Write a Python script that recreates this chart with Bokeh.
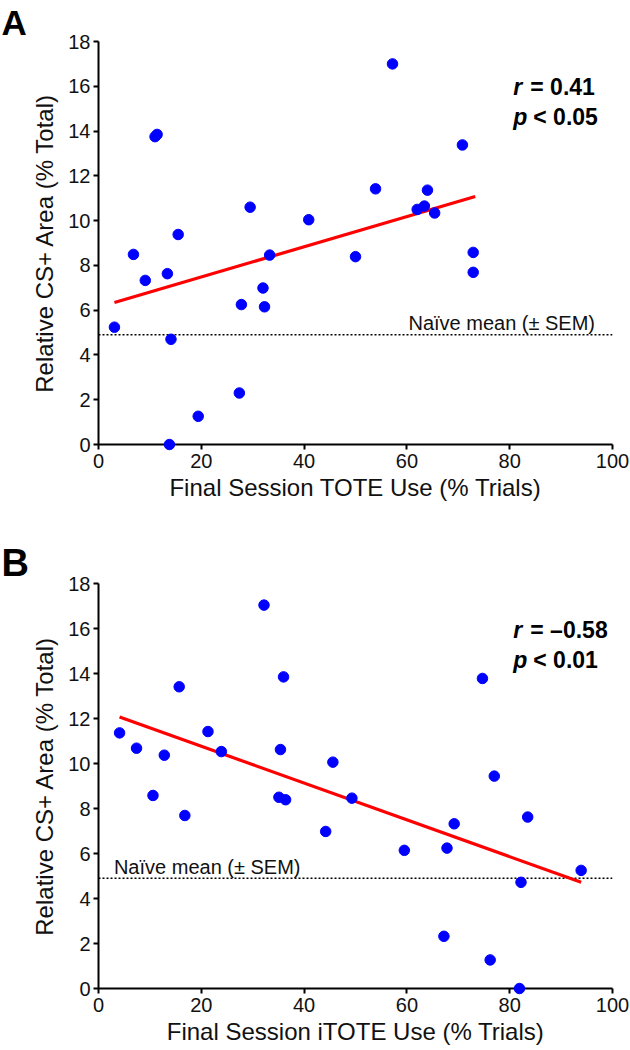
from bokeh.plotting import figure
from bokeh.models import Range1d, Label, ColumnDataSource
from bokeh.layouts import column
from bokeh.embed import file_html
from bokeh.resources import INLINE

# ---------------- data ----------------
# Panel A: Final Session TOTE Use (% Trials) vs Relative CS+ Area (% Total)
tote_pct = [57.2, 11.0, 11.4, 70.8, 53.9, 64.0, 29.5, 62.0, 63.4, 65.4, 40.9, 15.5,
            6.8, 33.3, 50.0, 72.9, 9.1, 13.4, 72.9, 32.0, 27.8, 32.3, 3.1, 14.1,
            27.4, 19.4, 13.8]
area_a = [17.0, 13.75, 13.85, 13.38, 11.42, 11.36, 10.6, 10.5, 10.65, 10.34, 10.04, 9.38,
          8.49, 8.46, 8.39, 8.58, 7.33, 7.63, 7.69, 6.99, 6.25, 6.15, 5.24, 4.70,
          2.30, 1.26, 0.0]
fit_a_x = [3.1, 73.3]
fit_a_y = [6.34, 11.08]

# Panel B: Final Session iTOTE Use (% Trials) vs Relative CS+ Area (% Total)
itote_pct = [32.2, 36.0, 74.7, 15.7, 4.1, 21.3, 7.4, 12.8, 23.9, 35.4, 45.6, 77.0,
             10.6, 16.8, 35.1, 36.4, 49.3, 44.2, 69.2, 83.5, 59.5, 67.8, 93.9, 82.2,
             67.2, 76.2, 81.9]
area_b = [17.04, 13.85, 13.78, 13.41, 11.36, 11.42, 10.68, 10.37, 10.53, 10.62, 10.06, 9.44,
          8.58, 7.69, 8.50, 8.39, 8.46, 6.98, 7.32, 7.62, 6.14, 6.24, 5.25, 4.72,
          2.32, 1.27, 0.0]
fit_b_x = [4.1, 93.9]
fit_b_y = [12.07, 4.72]

naive_mean = 4.9
x_ticks = [0, 20, 40, 60, 80, 100]
y_ticks = [0, 2, 4, 6, 8, 10, 12, 14, 16, 18]
y_label = "Relative CS+ Area (% Total)"
x_label_a = "Final Session TOTE Use (% Trials)"
x_label_b = "Final Session iTOTE Use (% Trials)"
naive_text = "Na\u00efve mean (\u00b1 SEM)"
stats_a = ("r", "= 0.41", "p", "< 0.05")
stats_b = ("r", "= \u20130.58", "p", "< 0.01")

FONT = "Liberation Sans"
INK = "#111111"


def make_panel(letter, letter_size, xs, ys, fx, fy, xlabel, stats, naive_left,
               height, top, bottom):
    p = figure(width=630, height=height, x_range=Range1d(0, 100), y_range=Range1d(0, 18),
               output_backend="svg", toolbar_location=None,
               min_border_left=98, min_border_right=18,
               min_border_top=top, min_border_bottom=bottom)
    p.outline_line_color = None
    p.xgrid.visible = False
    p.ygrid.visible = False
    p.background_fill_color = "white"
    p.border_fill_color = "white"

    # panel letter as the title
    p.title.text = letter
    p.title.text_font = FONT
    p.title.text_font_size = letter_size
    p.title.text_font_style = "bold"
    p.title.text_color = "black"
    p.title.align = "left"
    p.title.standoff = 0
    p.title.offset = -97

    p.xaxis.ticker = x_ticks
    p.yaxis.ticker = y_ticks
    for ax in (p.xaxis, p.yaxis):
        ax.axis_line_width = 2
        ax.axis_line_color = "black"
        ax.major_tick_line_width = 2
        ax.major_tick_line_color = "black"
        ax.major_tick_in = 0
        ax.major_tick_out = 5
        ax.minor_tick_line_color = None
        ax.major_label_text_font = FONT
        ax.major_label_text_font_size = "20px"
        ax.major_label_text_color = INK
        ax.axis_label_text_font = FONT
        ax.axis_label_text_font_size = "24px"
        ax.axis_label_text_font_style = "normal"
        ax.axis_label_text_color = INK
    p.xaxis.axis_label = xlabel
    p.yaxis.axis_label = y_label
    p.yaxis.major_label_standoff = 3
    p.yaxis.axis_label_standoff = 7
    p.xaxis.major_label_standoff = 4
    p.xaxis.axis_label_standoff = 3

    # naive mean dotted line
    p.line(x=[0, 100], y=[naive_mean, naive_mean], line_color="black",
           line_width=1.5, line_dash="2 2")
    if naive_left:
        p.add_layout(Label(x=3.0, y=5.42, text=naive_text, text_font=FONT,
                           text_font_size="20px", text_align="left",
                           text_baseline="alphabetic", text_color=INK))
    else:
        p.add_layout(Label(x=96.6, y=5.42, text=naive_text, text_font=FONT,
                           text_font_size="20px", text_align="right",
                           text_baseline="alphabetic", text_color=INK))

    # regression line
    p.line(x=fx, y=fy, line_color="#ff0000", line_width=3.2)

    # points
    src = ColumnDataSource(dict(x=xs, y=ys))
    p.scatter("x", "y", source=src, size=10.5, fill_color="#0000ff",
              line_color="#0000ff", level="overlay")

    # stats text
    r_sym, r_txt, p_sym, p_txt = stats
    for sym, txt, yy, off in ((r_sym, r_txt, 15.95, 17), (p_sym, p_txt, 14.62, 20)):
        p.add_layout(Label(x=80.7, y=yy, text=sym, text_font=FONT, text_font_size="23px",
                           text_font_style="bold italic", text_baseline="alphabetic",
                           text_color="black"))
        p.add_layout(Label(x=80.7, y=yy, x_offset=off, text=txt, text_font=FONT,
                           text_font_size="23px", text_font_style="bold",
                           text_baseline="alphabetic", text_color="black"))
    return p


pa = make_panel("A", "35px", tote_pct, area_a, fit_a_x, fit_a_y, x_label_a, stats_a,
                naive_left=False, height=535, top=39, bottom=91)
pb = make_panel("B", "38px", itote_pct, area_b, fit_b_x, fit_b_y, x_label_b, stats_b,
                naive_left=True, height=515, top=48, bottom=62)

layout = column(pa, pb, spacing=0)
open("out.html", "w").write(file_html(layout, INLINE))
